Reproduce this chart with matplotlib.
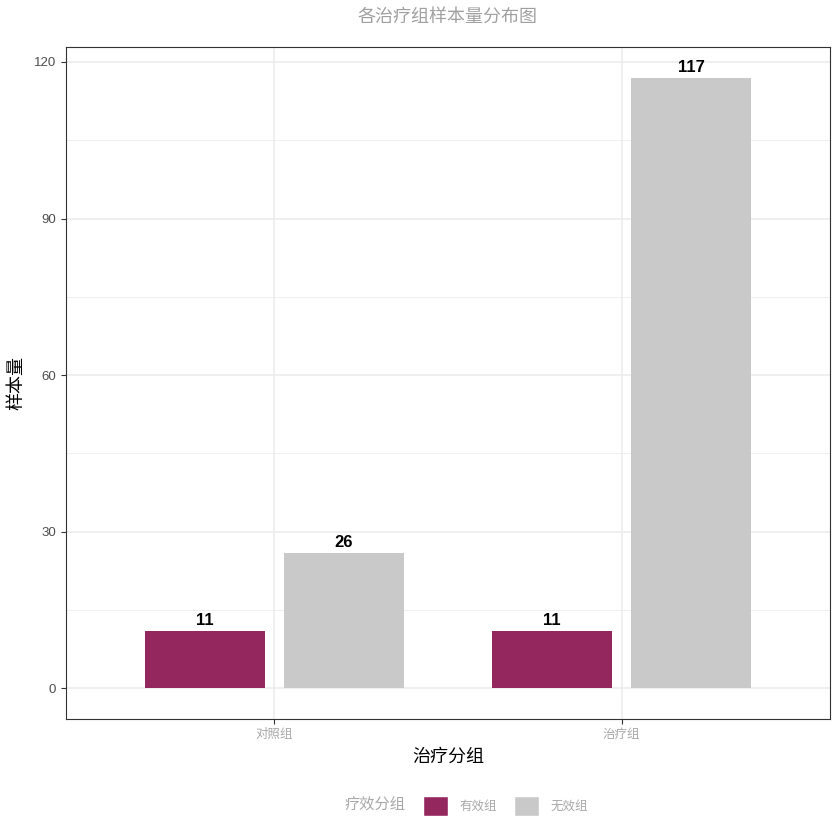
import matplotlib
matplotlib.use("Agg")
import matplotlib.pyplot as plt
import matplotlib.patches as patches
import numpy as np

plt.rcParams['font.family'] = ['Liberation Sans', 'Noto Sans CJK SC', 'DejaVu Sans']

# data
groups = ["对照组", "治疗组"]
outcomes = ["有效组", "无效组"]
counts = {
    "有效组": [11, 11],
    "无效组": [26, 117],
}
colors = {"有效组": "#93275E", "无效组": "#C9C9C9"}
title = "各治疗组样本量分布图"
legend_title = "疗效分组"
y_ticks = [0, 30, 60, 90, 120]
y_minor = [15, 45, 75, 105]

fig = plt.figure(figsize=(8.4, 8.4), dpi=100)
ax = fig.add_axes([66 / 840, 1 - 719 / 840, 764 / 840, 672 / 840])

x = np.arange(1, len(groups) + 1)
offsets = [-0.2, 0.2]
bar_w = 0.345

# grid
for v in y_ticks:
    ax.axhline(v, color="#EBEBEB", lw=1.1, zorder=0)
for v in y_minor:
    ax.axhline(v, color="#EBEBEB", lw=0.55, zorder=0)
for xv in x:
    ax.axvline(xv, color="#EBEBEB", lw=1.1, zorder=0)

for off, name in zip(offsets, outcomes):
    vals = counts[name]
    ax.bar(x + off, vals, width=bar_w, color=colors[name], zorder=2, label=name)
    for xi, v in zip(x + off, vals):
        ax.text(xi, v + 0.5, str(v), ha="center", va="bottom",
                fontsize=12, fontweight="bold", color="black", zorder=3)

ymax = max(max(v) for v in counts.values())
ax.set_ylim(-0.05 * ymax, ymax * 1.05)
ax.set_xlim(0.4, 2.6)
ax.set_yticks(y_ticks)
ax.set_xticks(x)
ax.set_xticklabels(groups, color="#A8A8A8", fontsize=9)
ax.tick_params(axis="y", labelsize=9.5, labelcolor="#4D4D4D", color="#333333", length=3.5)
ax.tick_params(axis="x", color="#333333", length=3.5)
for s in ax.spines.values():
    s.set_color("#333333")
    s.set_linewidth(0.8)

ax.set_xlabel("治疗分组", fontsize=13, labelpad=6)
ax.set_ylabel("样本量", fontsize=13, labelpad=6)
fig.text(448 / 840, 1 - 17 / 840, title, ha="center", va="center",
         fontsize=13, color="#A0A0A0")

# legend at bottom, title on the left
handles = [patches.Patch(visible=False)]
labels = [legend_title]
for name in outcomes:
    handles.append(patches.Patch(facecolor=colors[name], edgecolor="white"))
    labels.append(name)
leg = fig.legend(handles, labels, loc="center", bbox_to_anchor=(448 / 840, 1 - 806 / 840),
                 ncol=3, frameon=False, fontsize=9, handlelength=2.0, handleheight=2.0,
                 columnspacing=1.4, handletextpad=0.9)
for i, t in enumerate(leg.get_texts()):
    t.set_color("#A8A8A8")
    if i == 0:
        t.set_fontsize(11)

fig.savefig("out.png", dpi=100)
